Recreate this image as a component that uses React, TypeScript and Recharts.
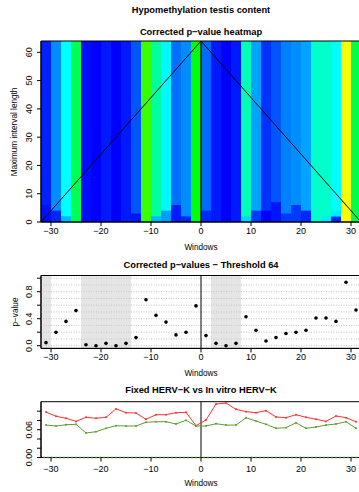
import type { CSSProperties } from 'react';
import { ComposedChart, Line, Scatter, XAxis, YAxis, ReferenceArea, ReferenceLine } from 'recharts';

const windows = [-31, -29, -27, -25, -23, -21, -19, -17, -15, -13, -11, -9, -7, -5, -3, -1, 1, 3, 5, 7, 9, 11, 13, 15, 17, 19, 21, 23, 25, 27, 29, 31];

// corrected p-values at threshold 64 (also the top row of the heatmap)
const pValues = [0.045, 0.2, 0.36, 0.52, 0.015, 0, 0.035, 0, 0.035, 0.12, 0.68, 0.45, 0.35, 0.16, 0.2, 0.59, 0.15, 0.035, 0, 0.035, 0.43, 0.23, 0.07, 0.12, 0.18, 0.2, 0.23, 0.41, 0.41, 0.36, 0.94, 0.53];

// short interval lengths that differ from the rest of the column: [window, fromLength, toLength, p]
const lowBands: [number, number, number, number][] = [
  [-31, 0, 6, 0.02],
  [-29, 0, 4, 0.055],
  [-27, 0, 2, 0.26],
  [-13, 0, 3, 0.03],
  [-9, 0, 2, 0.26],
  [-7, 0, 4, 0.22],
  [-5, 0, 6, 0.04],
  [-3, 0, 2, 0.055],
  [1, 0, 4, 0.055],
  [9, 0, 2, 0.3],
  [11, 0, 4, 0.08],
  [13, 0, 4, 0],
  [15, 0, 7, 0.03],
  [17, 0, 3, 0.08],
  [19, 0, 6, 0.08],
  [21, 0, 4, 0.055],
  [25, 0, 2, 0.33],
  [27, 0, 2, 0.055],
  [27, 2, 4, 0.33],
];

const triangle = [
  { x: -32, y: 0 },
  { x: 0, y: 64 },
  { x: 32, y: 0 },
];

const significant: [number, number][] = [[-32, -30], [-24, -14], [2, 8]];

const fixedHervK = [0.098, 0.089, 0.0847, 0.078, 0.0868, 0.0847, 0.0868, 0.105, 0.0968, 0.096, 0.0825, 0.0924, 0.0924, 0.0968, 0.0976, 0.0687, 0.081, 0.1155, 0.1177, 0.104, 0.099, 0.0968, 0.101, 0.0875, 0.086, 0.0924, 0.0868, 0.0825, 0.078, 0.0896, 0.086, 0.0773];
const inVitroHervK = [0.07, 0.068, 0.0708, 0.0717, 0.0529, 0.0557, 0.063, 0.0687, 0.068, 0.068, 0.076, 0.0773, 0.0773, 0.0724, 0.0803, 0.068, 0.068, 0.073, 0.07, 0.07, 0.086, 0.0788, 0.0717, 0.063, 0.0644, 0.075, 0.063, 0.0659, 0.07, 0.0724, 0.0773, 0.063];

const xTicks = [-30, -20, -10, 0, 10, 20, 30];
const heatTicks = [0, 10, 20, 30, 40, 50, 60];
const pTicks = [0, 0.2, 0.4, 0.6, 0.8, 1];
const pLabels = [0, 0.4, 0.8];
const pGrid = [0, 0.1, 0.2, 0.3, 0.4, 0.5, 0.6, 0.7, 0.8, 0.9, 1];
const hervTicks = [0, 0.02, 0.04, 0.06, 0.08, 0.1];
const hervLabels = [0, 0.06];

const font = '"Liberation Sans", Arial, sans-serif';

function heatColor(p: number) {
  let hue;
  if (p <= 0.36) hue = 240 - (60 * p) / 0.36;
  else if (p <= 0.6) hue = 180 - (60 * (p - 0.36)) / 0.24;
  else hue = Math.max(60, 120 - (60 * (p - 0.6)) / 0.35);
  let r = 0, g = 0, b = 0;
  if (hue >= 180) { g = (255 * (240 - hue)) / 60; b = 255; }
  else if (hue >= 120) { g = 255; b = (255 * (hue - 120)) / 60; }
  else { r = (255 * (120 - hue)) / 60; g = 255; }
  return `rgb(${Math.round(r)},${Math.round(g)},${Math.round(b)})`;
}

const fmtX = (v: number) => (v < 0 ? `\u2212${-v}` : `${v}`);

function SideTick(props: any) {
  const { x, y, payload, shown, digits } = props;
  const v = payload.value;
  const label = shown.some((s: number) => Math.abs(s - v) < 1e-9) ? v.toFixed(digits) : '';
  return (
    <text x={x} y={y} transform={`rotate(-90 ${x} ${y})`} textAnchor="middle" fontSize={9} fill="#000" fontFamily={font}>
      {label}
    </text>
  );
}

const xAxisProps = {
  type: 'number' as const,
  domain: [-32, 32],
  ticks: xTicks,
  interval: 0 as const,
  tickSize: 4,
  tickMargin: 1.5,
  tickFormatter: fmtX,
  tick: { fontSize: 9, fill: '#000', fontFamily: font },
  axisLine: { stroke: '#000' },
  tickLine: { stroke: '#000' },
  allowDataOverflow: true,
};

const yAxisCommon = {
  type: 'number' as const,
  width: 41,
  tickSize: 4,
  tickMargin: 5,
  interval: 0 as const,
  axisLine: { stroke: '#000' },
  tickLine: { stroke: '#000' },
  allowDataOverflow: true,
};

const title: CSSProperties = {
  position: 'absolute',
  left: 41,
  width: 320,
  textAlign: 'center',
  fontWeight: 'bold',
  fontSize: 9.3,
  lineHeight: '12px',
  whiteSpace: 'nowrap',
};

const axisTitle: CSSProperties = {
  position: 'absolute',
  left: 41,
  width: 320,
  textAlign: 'center',
  fontSize: 8.2,
  lineHeight: '10px',
  whiteSpace: 'nowrap',
};

const sideTitle = (x: number, y: number): CSSProperties => ({
  position: 'absolute',
  left: x,
  top: y,
  fontSize: 8.2,
  lineHeight: '10px',
  whiteSpace: 'nowrap',
  transform: 'translate(-50%, -50%) rotate(-90deg)',
});

function Heatmap() {
  return (
    <ComposedChart width={361} height={256} margin={{ top: 41, right: 0, bottom: 0, left: 0 }}>
      <XAxis {...xAxisProps} dataKey="x" height={34} />
      <YAxis
        {...yAxisCommon}
        domain={[0, 64]}
        ticks={heatTicks}
        tick={(p: any) => <SideTick {...p} shown={heatTicks} digits={0} />}
      />
      {windows.map((w, i) => (
        <ReferenceArea key={w} x1={w - 1} x2={w + 1} y1={0} y2={64} fill={heatColor(pValues[i])} fillOpacity={1} stroke="none" />
      ))}
      {lowBands.map(([w, from, to, p]) => (
        <ReferenceArea key={`${w}-${from}`} x1={w - 1} x2={w + 1} y1={from} y2={to} fill={heatColor(p)} fillOpacity={1} stroke="none" />
      ))}
      <ReferenceArea x1={-32} x2={32} y1={0} y2={64} fill="none" stroke="#000" />
      <ReferenceLine x={0} stroke="#000" strokeWidth={1.2} />
      <Line data={triangle} dataKey="y" stroke="#000" strokeWidth={1} dot={false} isAnimationActive={false} />
    </ComposedChart>
  );
}

function PValueChart() {
  const data = windows.map((w, i) => ({ w, p: pValues[i] }));
  return (
    <ComposedChart width={361} height={130} data={data} margin={{ top: 25.5, right: 0, bottom: 0, left: 0 }}>
      <XAxis {...xAxisProps} dataKey="w" height={31.6} />
      <YAxis
        {...yAxisCommon}
        domain={[-0.04, 1.04]}
        ticks={pTicks}
        tick={(p: any) => <SideTick {...p} shown={pLabels} digits={1} />}
      />
      {pGrid.map((g) => (
        <ReferenceLine key={g} y={g} stroke="#c4c4c4" strokeDasharray="1 1.5" />
      ))}
      {significant.map(([a, b]) => (
        <ReferenceArea key={a} x1={a} x2={b} fill="#000" fillOpacity={0.1} stroke="none" />
      ))}
      <ReferenceArea x1={-32} x2={32} y1={-0.04} y2={1.04} fill="none" stroke="#000" />
      <ReferenceLine x={0} stroke="#000" />
      <Scatter
        dataKey="p"
        isAnimationActive={false}
        shape={(s: any) => <circle cx={s.cx} cy={s.cy} r={1.8} fill="#000" />}
      />
    </ComposedChart>
  );
}

function HervChart() {
  const data = windows.map((w, i) => ({ w, fixed: fixedHervK[i], vitro: inVitroHervK[i] }));
  return (
    <ComposedChart width={361} height={112} data={data} margin={{ top: 21.7, right: 0, bottom: 0, left: 0 }}>
      <XAxis {...xAxisProps} dataKey="w" height={34.5} tickMargin={4} axisLine={false} />
      <YAxis
        {...yAxisCommon}
        domain={[0, 0.1205]}
        ticks={hervTicks}
        tick={(p: any) => <SideTick {...p} shown={hervLabels} digits={2} />}
      />
      <ReferenceArea x1={-32} x2={32} y1={0} y2={0.1205} fill="none" stroke="#000" />
      <ReferenceLine y={0} stroke="#3f8f1f" strokeDasharray="2 2" strokeDashoffset={2} strokeWidth={1.3} />
      <ReferenceLine x={0} stroke="#000" />
      <Line dataKey="fixed" stroke="#ff3030" strokeWidth={1} dot={{ r: 1, fill: '#ff3030', stroke: 'none' }} isAnimationActive={false} />
      <Line dataKey="vitro" stroke="#5c9e2e" strokeWidth={1} dot={{ r: 1, fill: '#5c9e2e', stroke: 'none' }} isAnimationActive={false} />
    </ComposedChart>
  );
}

export default function App() {
  return (
    <div style={{ position: 'absolute', left: 0, top: 0, width: 359, height: 492, overflow: 'hidden', background: '#fff', fontFamily: font, color: '#000' }}>
      <div style={{ ...title, top: 4 }}>Hypomethylation testis content</div>
      <div style={{ ...title, top: 26 }}>Corrected p−value heatmap</div>
      <div style={sideTitle(14.5, 131.5)}>Maximum interval length</div>
      <div style={{ ...axisTitle, top: 243 }}>Windows</div>

      <div style={{ ...title, top: 259 }}>Corrected p−values − Threshold 64</div>
      <div style={sideTitle(15.5, 312)}>p−value</div>
      <div style={{ ...axisTitle, top: 369 }}>Windows</div>

      <div style={{ ...title, top: 384 }}>Fixed HERV−K vs In vitro HERV−K</div>
      <div style={{ ...axisTitle, top: 479 }}>Windows</div>

      <div style={{ position: 'absolute', left: 0, top: 0 }}>
        <Heatmap />
      </div>
      <div style={{ position: 'absolute', left: 0, top: 250 }}>
        <PValueChart />
      </div>
      <div style={{ position: 'absolute', left: 0, top: 380 }}>
        <HervChart />
      </div>
    </div>
  );
}
